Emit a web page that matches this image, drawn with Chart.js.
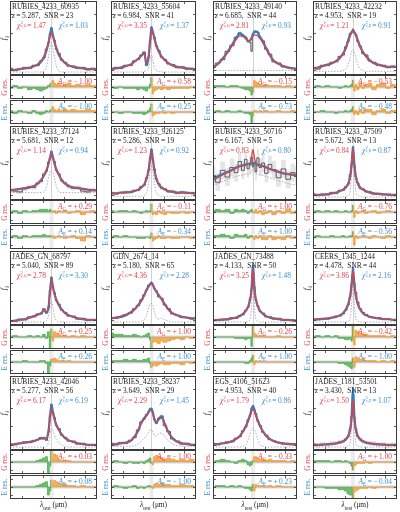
<!DOCTYPE html>
<html><head><meta charset="utf-8">
<script src="https://cdn.jsdelivr.net/npm/chart.js@4/dist/chart.umd.min.js"></script>
<style>
html,body{margin:0;padding:0;background:#fff;}
#fig{position:relative;width:400px;height:512px;overflow:hidden;font-family:"Liberation Serif","DejaVu Serif",serif;}
canvas{position:absolute;}
.t{position:absolute;white-space:nowrap;line-height:1;color:#222;font-size:7.4px;}
.r{color:#e3434d;}
.b{color:#3a8fd0;}
.ss{position:relative;display:inline-block;width:0.95em;height:1em;vertical-align:top;}
.sp{position:absolute;left:0.05em;top:-0.3em;font-size:0.62em;}
.sb{position:absolute;left:0.05em;top:0.5em;font-size:0.62em;}
.rot{transform:translate(-50%,-50%) rotate(-90deg);}
</style></head>
<body><div id="fig"></div>
<script>
// ---------- data ----------
const X = [-1,-0.88,-0.76,-0.64,-0.52,-0.42,-0.33,-0.25,-0.18,-0.12,-0.07,-0.035,0,0.035,0.07,0.12,0.18,0.25,0.33,0.42,0.52,0.64,0.76,0.88,1,1.1];
const CENTER_IDX = 12;
const LINE_CENTER = 0;
const X_TICKS = [-0.7,-0.2,0.3,0.8];
const Y_TICKS = [7,32,57,82];
const RES_TICKS = [-6,0,6];
const RES_BAND = 1.2;

const NAMES = ['RUBIES_4233_60935','RUBIES_4233_55604','RUBIES_4233_49140','RUBIES_4233_42232',
 'RUBIES_4233_37124','RUBIES_4233_926125','RUBIES_4233_50716','RUBIES_4233_47509',
 'JADES_GN_68797','GDN_2674_14','JADES_GN_73488','CEERS_1345_1244',
 'RUBIES_4233_42046','RUBIES_4233_58237','EGS_4106_51623','JADES_1181_53501'];
const Z = [5.287,6.984,6.685,4.953,5.681,5.286,6.167,5.672,5.040,5.180,4.133,4.478,5.277,3.649,4.953,3.430];
const SNR = [23,41,44,19,12,19,5,13,89,65,50,44,56,29,40,13];
const CHI_G = [1.47,3.35,2.81,1.21,1.14,1.23,0.83,0.84,2.78,4.36,3.25,3.86,6.17,2.29,1.79,1.50];
const CHI_E = [1.03,1.37,0.93,0.91,0.94,0.92,0.80,0.87,3.30,2.28,1.48,2.16,6.19,1.45,0.86,1.07];
const AMP_G = [-1.00,0.58,-0.15,-0.53,0.29,-0.11,1.00,-0.76,0.25,1.00,-0.26,-0.42,0.03,-1.00,-0.33,1.00];
const AMP_E = [-1.00,0.25,-0.73,-0.48,0.14,-0.34,1.00,-0.56,0.26,1.00,1.00,-1.00,0.08,-1.00,0.23,-0.04];
const ERR = [2,2,2,2,3,2,12,2,1,1,1,1,1,2,1,3];

const FIT_E = [
[7,7,8,9,10,12,14,18,24,33,44,54,63,54,46,36,27,21,16,13,11,10,9,8,8,8],
[8,9,10,12,14,18,22,26,30,14,25,45,64,58,50,40,32,25,20,16,13,11,10,9,8,8],
[10,15,22,31,41,50,56,54,50,46,47,50,55,58,59,57,51,45,36,27,19,15,12,10,9,8],
[9,10,12,14,16,19,23,29,36,47,54,58,60,58,54,47,38,31,25,20,16,14,12,11,11,11],
[13,14,15,16,17,19,22,27,33,40,49,57,65,58,50,41,34,27,22,19,17,16,15,14,13,13],
[9,9,10,10,11,12,14,17,21,29,41,55,68,55,41,29,21,17,14,12,11,10,10,10,9,9],
[29,32,35,38,41,44,46,47,48,49,49,50,50,49,49,48,47,46,44,42,40,38,36,35,34,34],
[7,7,7,8,9,10,12,14,17,22,32,48,71,48,32,22,17,14,12,10,9,8,8,7,7,7],
[5,6,7,8,10,12,14,16,20,17,24,45,63,52,43,34,27,21,16,13,11,9,8,7,7,7],
[9,10,11,13,17,21,27,33,40,48,52,55,57,54,50,45,40,35,28,21,16,13,11,10,9,9],
[6,7,7,8,9,10,12,15,19,25,35,50,81,50,35,25,19,15,12,10,9,8,7,7,6,6],
[7,8,8,9,10,11,13,16,21,28,40,55,75,55,40,28,21,16,13,11,10,9,8,8,7,7],
[7,8,9,10,11,12,14,16,16,15,26,45,61,52,43,34,27,21,16,13,11,9,8,7,7,7],
[8,8,9,10,12,18,26,37,43,47,52,55,56,50,42,37,42,45,35,24,16,11,9,8,7,7],
[8,8,9,10,12,15,19,25,32,40,48,55,59,55,48,40,32,25,19,15,12,10,9,8,8,8],
[7,7,7,8,8,9,10,12,14,19,28,45,83,45,28,19,14,12,10,9,8,8,7,7,7,7]];

const FIT_G = [
[7,7,8,9,10,12,15,19,25,34,44,52,58,52,45,36,28,21,16,13,11,10,9,8,8,8],
[8,9,10,12,14,18,22,26,29,16,26,44,62,57,49,39,31,25,20,16,13,11,10,9,8,8],
[11,15,22,30,40,48,53,52,49,46,47,50,53,54,54,53,49,43,35,27,20,15,12,10,9,8],
[9,10,12,14,16,19,23,29,36,46,53,58,60,58,53,46,38,31,25,20,16,14,12,11,11,11],
[13,14,15,16,17,19,22,27,33,40,49,56,64,57,50,41,34,27,22,19,17,16,15,14,13,13],
[9,9,10,10,11,12,14,17,21,29,41,54,66,54,41,29,21,17,14,12,11,10,10,10,9,9],
[27,30,34,37,40,43,45,46,47,48,50,58,68,57,50,47,46,45,44,42,40,38,36,35,34,34],
[7,7,7,8,9,10,12,14,17,22,32,46,68,46,32,22,17,14,12,10,9,8,8,7,7,7],
[5,6,7,8,10,12,14,16,20,18,26,44,61,51,42,33,26,20,16,13,11,9,8,7,7,7],
[9,10,12,14,17,21,27,33,40,47,52,55,56,53,49,45,41,35,28,21,16,13,11,10,9,9],
[6,7,7,8,9,10,12,15,19,25,35,48,77,48,35,25,19,15,12,10,9,8,7,7,6,6],
[7,8,8,9,10,11,13,16,21,28,39,53,72,53,39,28,21,16,13,11,10,9,8,8,7,7],
[7,8,9,10,11,12,14,15,15,16,25,42,56,49,41,33,27,21,16,13,11,9,8,7,7,7],
[8,8,9,10,12,18,26,36,42,46,51,53,54,49,42,38,41,43,35,24,16,11,9,8,7,7],
[8,8,9,10,12,15,19,25,32,39,46,52,56,52,46,39,32,25,19,15,12,10,9,8,8,8],
[7,7,7,8,8,9,10,12,14,19,28,42,68,42,28,19,14,12,10,9,8,8,7,7,7,7]];

const OBS = [
[9,6,8,10,9,13,13,19,23,35,43,56,64,52,47,35,29,20,17,12,12,9,10,7,9,8],
[8,10,9,13,13,19,21,27,31,13,24,47,65,57,51,39,33,24,21,15,14,10,11,8,9,8],
[10,16,21,32,40,51,57,53,51,45,44,32,56,59,58,58,50,46,35,28,18,16,11,10,9,9],
[10,8,13,13,17,18,25,27,38,45,56,57,62,57,55,45,39,29,27,19,17,13,13,10,12,11],
[14,12,11,15,18,17,23,25,35,39,51,56,66,57,52,40,35,26,23,18,16,17,12,11,14,13],
[10,8,10,11,10,13,13,18,20,30,40,57,69,54,42,28,22,16,15,11,12,9,11,9,10,9],
[33,24,40,31,44,37,52,40,55,42,47,58,45,51,38,57,44,50,36,48,41,30,42,28,37,33],
[8,6,8,7,10,9,13,13,18,21,34,49,72,47,31,23,16,15,11,11,8,9,7,8,6,7],
[6,5,8,7,11,11,15,15,22,16,23,47,65,52,44,33,28,20,17,12,12,8,9,6,7,7],
[10,9,11,14,16,22,26,34,41,47,54,56,58,55,49,46,38,36,27,22,15,13,10,10,8,9],
[7,6,8,7,10,9,13,14,20,24,36,49,80,52,34,26,18,16,11,11,8,9,6,7,7,6],
[8,7,9,8,10,12,12,15,20,27,38,56,78,57,44,31,22,17,14,11,10,10,8,8,7,7],
[8,7,9,11,10,13,14,17,17,13,24,47,62,51,44,33,29,20,17,12,12,8,9,7,7,7],
[9,7,10,9,13,17,27,38,42,48,51,56,55,51,41,36,43,46,33,25,15,12,8,9,7,7],
[9,7,9,11,11,16,18,26,31,41,47,57,60,54,49,39,33,24,20,14,12,10,8,9,7,8],
[8,6,8,7,9,9,11,11,15,18,29,46,75,44,29,18,15,11,10,9,9,7,8,6,7,7]];

const NARROW = [
[4,4,4,4,4,4,4,4,5,12,25,37,43,37,25,12,5,4,4,4,4,4,4,4,4,4],
[4,4,4,4,4,4,4,4,5,6,10,20,27,20,10,6,5,4,4,4,4,4,4,4,4,4],
[6,6,6,6,6,6,6,6,6,6,6,6,6,6,6,6,6,6,6,6,6,6,6,6,6,6],
[5,5,5,5,5,5,5,6,8,14,24,31,34,31,24,14,8,6,5,5,5,5,5,5,5,5],
[10,10,10,10,10,10,10,10,11,18,30,37,40,37,30,18,11,10,10,10,10,10,10,10,10,10],
[5,5,5,5,5,5,5,5,6,10,24,38,47,38,24,10,6,5,5,5,5,5,5,5,5,5],
[20,22,25,28,30,32,33,34,35,35,36,40,45,40,36,35,34,33,32,30,28,26,24,22,21,20],
[4,4,4,4,4,4,4,4,5,6,12,35,58,35,12,6,5,4,4,4,4,4,4,4,4,4],
[4,4,4,4,4,4,4,4,4,6,12,24,32,24,12,6,4,4,4,4,4,4,4,4,4,4],
[4,4,4,4,4,4,4,5,7,14,23,28,29,26,18,10,8,9,7,5,4,4,4,4,4,4],
[4,4,4,4,4,4,4,4,4,5,8,25,60,25,8,5,4,4,4,4,4,4,4,4,4,4],
[4,4,4,4,4,4,4,4,4,5,9,28,55,28,9,5,4,4,4,4,4,4,4,4,4,4],
[4,4,4,4,4,4,4,4,4,5,10,20,29,26,20,14,10,7,5,4,4,4,4,4,4,4],
[5,5,5,5,5,6,8,12,16,20,24,27,27,24,20,19,22,23,18,12,8,6,5,5,5,5],
[4,4,4,4,4,4,4,5,7,14,23,28,29,28,23,14,7,5,4,4,4,4,4,4,4,4],
[4,4,4,4,4,4,4,4,4,5,10,30,55,30,10,5,4,4,4,4,4,4,4,4,4,4]];

const RES_G = [
[-1,1,-1,0,-2,-1,-2,-3,-2,-1,1,2,3,5,3,2,3,1,2,3,1,2,1,2,1,1],
[0,-1,0,-1,-1,-1,-2,-1,-2,-3,-1,2,7,-5,-3,-2,-1,-2,-1,-2,-1,-1,-1,-1,0,-1],
[1,1,1,0,1,1,0,-1,-2,-2,-3,-6,-4,5,4,3,2,1,2,1,1,1,0,1,0,1],
[0,1,0,1,0,0,-1,0,1,0,1,2,5,-3,2,-2,3,-1,2,3,-2,2,3,-1,2,1],
[-1,1,-1,1,0,1,1,2,2,2,1,2,1,0,1,-1,1,0,1,-1,0,1,-2,0,1,-1],
[1,0,1,1,0,1,0,-1,0,1,0,1,6,-2,-1,-2,1,-1,-2,0,-1,-1,0,-1,0,-1],
[1,2,1,2,-1,2,1,2,1,-1,1,2,0,-1,2,-1,1,-2,-1,1,-2,1,-1,2,-1,1],
[0,1,0,1,0,1,0,0,1,0,0,1,5,-4,1,-1,0,1,-1,0,1,-1,0,1,0,0],
[0,1,0,0,1,0,1,0,2,-1,4,-8,6,-3,4,3,2,1,1,0,1,0,1,0,0,0],
[3,2,2,1,1,2,1,0,1,2,3,-2,-9,-4,-3,-4,-5,-3,-4,-3,-2,-1,-2,0,-1,0],
[0,0,0,0,0,-1,-1,-1,-2,-1,-1,-7,10,3,2,1,1,1,0,0,0,1,0,0,0,0],
[0,1,0,1,0,1,-1,-1,-2,-2,-1,-3,10,-6,5,4,3,2,2,1,1,1,1,0,1,0],
[0,0,0,0,0,0,1,2,3,4,-8,-3,10,2,6,5,2,1,1,1,0,0,0,0,0,0],
[0,1,0,-1,0,-1,-1,0,-1,1,2,3,-1,-2,4,5,4,3,2,3,2,1,2,1,2,0],
[0,1,2,1,0,-1,1,2,1,-2,-3,-2,1,4,4,3,2,2,1,2,1,1,1,0,1,0],
[1,1,1,1,0,1,1,0,1,0,-1,-3,-6,-3,-2,-1,-1,-1,0,-1,0,0,0,0,0,0]];

const RES_E = [
[1,-1,1,0,-1,1,-1,-2,-1,1,0,1,2,4,2,1,2,1,2,1,2,1,1,2,1,1],
[0,0,-1,0,0,-1,-1,-1,-2,-1,1,3,6,-3,-2,-1,-1,0,-1,0,-1,0,0,0,0,0],
[0,1,0,1,0,0,1,0,-1,-1,-2,-8,-3,1,1,0,1,0,1,0,0,1,0,0,1,0],
[0,0,1,0,0,-1,0,0,1,0,1,2,4,-2,1,-2,2,-1,2,2,-2,1,2,-1,1,1],
[0,1,-1,1,0,1,1,1,2,1,1,1,0,1,-1,0,1,0,-1,0,1,-1,-3,1,0,-1],
[0,1,0,1,0,0,-1,-1,-1,0,0,-1,3,-3,-2,-1,1,-1,-1,0,-1,-1,0,0,-1,0],
[1,1,2,1,-1,2,1,1,2,-1,1,1,0,-2,1,-1,1,-2,-2,1,-2,-1,-2,1,-1,0],
[0,1,0,0,1,0,0,1,0,0,1,1,4,-6,1,-1,0,1,0,-1,1,0,-1,1,0,0],
[0,0,0,1,0,0,0,1,1,-1,-9,-3,2,2,3,2,1,1,0,1,0,0,0,0,0,0],
[1,1,1,2,1,2,1,1,2,2,3,-1,-4,-3,-2,-3,-2,-1,-2,-2,-1,-1,-2,0,-1,0],
[0,0,0,0,0,0,0,0,-1,-1,1,3,5,-2,1,0,1,0,0,0,0,0,0,0,0,0],
[0,0,0,0,0,0,-1,-1,-2,-3,-4,-5,3,-4,4,3,2,2,1,1,1,0,1,0,1,0],
[0,0,0,0,0,0,1,2,3,4,-6,-3,5,2,5,4,3,2,2,1,1,0,1,0,0,0],
[0,1,0,-1,0,1,-1,0,-1,0,1,1,0,-1,2,3,2,3,2,2,1,1,2,1,1,0],
[0,1,1,0,1,0,1,0,-1,-1,-2,-3,2,-3,2,1,1,1,0,1,0,1,0,0,0,0],
[0,0,0,-1,-1,-1,-2,-2,-3,-5,-6,-6,-10,-4,-3,-2,-1,-1,-1,0,-1,0,0,0,0,0]];

// ---------- layout & style ----------
const COL_X = [10,111,213,313];
const COL_W = [87,85,84,84];
const ROW_Y = [1,126,251,376];
const MAIN_H = 74, G_OFF = 74, G_H = 24, E_OFF = 99, E_H = 24;
const RED = '#e0404a', BLUE = '#2f7fc0', GREEN = '#4caf4c', ORANGE = '#f39a30';

const fig = document.getElementById('fig');
function mk(x,y,w,h){
  const c=document.createElement('canvas');
  c.width=w;c.height=h;c.style.left=x+'px';c.style.top=y+'px';
  c.style.width=w+'px';c.style.height=h+'px';fig.appendChild(c);return c;
}
function txt(html,x,y,cls,style){
  const d=document.createElement('div');d.className='t '+(cls||'');d.innerHTML=html;
  d.style.left=x+'px';d.style.top=y+'px';if(style)Object.assign(d.style,style);fig.appendChild(d);return d;
}
const pts = arr => X.map((x,i)=>({x,y:arr[i]}));
const fmtA = v => (v<0?'\u2212\u2009':'+\u2009')+Math.abs(v).toFixed(2);

function framePlugin(yTicks,isRes){
  return {id:'frame',
    beforeDatasetsDraw(ch){
      const {ctx,chartArea:a,scales:{x,y}}=ch;ctx.save();
      if(isRes){
        ctx.fillStyle='#ececec';
        const x0=x.getPixelForValue(LINE_CENTER-0.05),x1=x.getPixelForValue(LINE_CENTER+0.05);
        ctx.fillRect(x0,a.top,x1-x0,a.height);
        ctx.fillStyle='#e0e0e0';
        const y0=y.getPixelForValue(RES_BAND),y1=y.getPixelForValue(-RES_BAND);
        ctx.fillRect(a.left,y0,a.width,y1-y0);
        ctx.strokeStyle='#a0a0a0';ctx.lineWidth=0.7;ctx.beginPath();
        const yz=y.getPixelForValue(0);ctx.moveTo(a.left,yz);ctx.lineTo(a.right,yz);ctx.stroke();
      } else {
        ctx.strokeStyle='#d2d2d2';ctx.lineWidth=1;ctx.beginPath();
        const xc=Math.round(x.getPixelForValue(LINE_CENTER))+0.5;
        ctx.moveTo(xc,a.top);ctx.lineTo(xc,a.bottom);ctx.stroke();
      }
      ctx.restore();
    },
    afterDraw(ch){
      const {ctx,chartArea:a,scales:{x,y}}=ch;ctx.save();
      ctx.strokeStyle='#3a3a3a';ctx.lineWidth=1;
      ctx.strokeRect(a.left+0.5,a.top+0.5,a.width-1,a.height-1);
      ctx.lineWidth=0.8;ctx.beginPath();
      X_TICKS.forEach(v=>{const px=Math.round(x.getPixelForValue(v))+0.5;
        ctx.moveTo(px,a.top);ctx.lineTo(px,a.top+3);ctx.moveTo(px,a.bottom);ctx.lineTo(px,a.bottom-3);});
      yTicks.forEach(v=>{const py=Math.round(y.getPixelForValue(v))+0.5;
        ctx.moveTo(a.left,py);ctx.lineTo(a.left+3,py);ctx.moveTo(a.right,py);ctx.lineTo(a.right-3,py);});
      ctx.stroke();ctx.restore();
    }};
}
const baseOpts = (ymin,ymax)=>({
  responsive:false,animation:false,devicePixelRatio:1,events:[],
  layout:{padding:0},
  plugins:{legend:{display:false},tooltip:{enabled:false}},
  elements:{point:{radius:0},line:{borderJoinStyle:'round'}},
  scales:{x:{type:'linear',min:-1,max:1.1,display:false},y:{min:ymin,max:ymax,display:false}}
});

for(let k=0;k<16;k++){
  const r=Math.floor(k/4),c=k%4;
  const x0=COL_X[c],w=COL_W[c],y0=ROW_Y[r];
  // main panel
  new Chart(mk(x0,y0,w,MAIN_H),{type:'line',
    data:{datasets:[
      {data:pts(FIT_G[k]),borderColor:RED,borderWidth:1.3,cubicInterpolationMode:'monotone',order:0},
      {data:pts(FIT_E[k]),borderColor:BLUE,borderWidth:2.2,cubicInterpolationMode:'monotone',order:1},
      {data:pts(OBS[k]),borderColor:'#4a4a4a',borderWidth:0.9,stepped:'middle',order:2},
      {data:pts(NARROW[k]),borderColor:'#9a9a9a',borderWidth:0.8,borderDash:[1.5,1.5],cubicInterpolationMode:'monotone',order:3},
      {data:pts(OBS[k].map(v=>v+ERR[k])),borderWidth:0,stepped:'middle',fill:'+1',backgroundColor:'rgba(190,190,190,0.4)',order:4},
      {data:pts(OBS[k].map(v=>v-ERR[k])),borderWidth:0,stepped:'middle',order:5}
    ]},
    options:baseOpts(0,100),plugins:[framePlugin(Y_TICKS,false)]});
  // residual panels
  [[RES_G[k],G_OFF,G_H],[RES_E[k],E_OFF,E_H]].forEach(([res,off,h])=>{
    new Chart(mk(x0,y0+off,w,h),{type:'line',
      data:{datasets:[
        {data:X.slice(0,CENTER_IDX+1).map((x,i)=>({x,y:res[i]})),stepped:'middle',fill:{value:0},
          backgroundColor:'rgba(76,175,76,0.8)',borderColor:GREEN,borderWidth:0.8},
        {data:X.slice(CENTER_IDX).map((x,i)=>({x,y:res[i+CENTER_IDX]})),stepped:'middle',fill:{value:0},
          backgroundColor:'rgba(243,154,48,0.8)',borderColor:ORANGE,borderWidth:0.8}
      ]},
      options:baseOpts(-9,9),plugins:[framePlugin(RES_TICKS,true)]});
  });
  // texts
  txt(NAMES[k],x0+2,y0+2);
  txt('<i>z</i>\u2009=\u2009'+Z[k].toFixed(3)+',\u2002SNR\u2009=\u2009'+SNR[k],x0+2,y0+10.5);
  txt('<i>\u03c7</i><span class="ss"><span class="sp">2</span><span class="sb"><i>\u03bd</i>,G</span></span>=\u2009'+CHI_G[k].toFixed(2),x0+7,y0+21,'r');
  txt('<i>\u03c7</i><span class="ss"><span class="sp">2</span><span class="sb"><i>\u03bd</i>,E</span></span>=\u2009'+CHI_E[k].toFixed(2),x0+49,y0+21,'b');
  txt('<i>A</i><sub style="font-size:0.7em">G</sub>\u2009=\u2009'+fmtA(AMP_G[k]),0,y0+G_OFF+2.5,'r',{left:'auto',right:(400-(x0+w)+5)+'px'});
  txt('<i>A</i><sub style="font-size:0.7em">E</sub>\u2009=\u2009'+fmtA(AMP_E[k]),0,y0+E_OFF+2.5,'b',{left:'auto',right:(400-(x0+w)+5)+'px'});
  // y labels
  txt('<i>f</i><sub style="font-size:0.7em"><i>\u03bb</i></sub>',x0-5,y0+37,'rot');
  txt('G res.',x0-5,y0+G_OFF+G_H/2,'r rot');
  txt('E res.',x0-5,y0+E_OFF+E_H/2,'b rot');
  if(r===3){
    txt('<i>\u03bb</i><sub style="font-size:0.7em">rest</sub> (\u03bcm)',x0+w/2,506,'',{transform:'translate(-50%,-50%)'});
  }
}
</script></body></html>
